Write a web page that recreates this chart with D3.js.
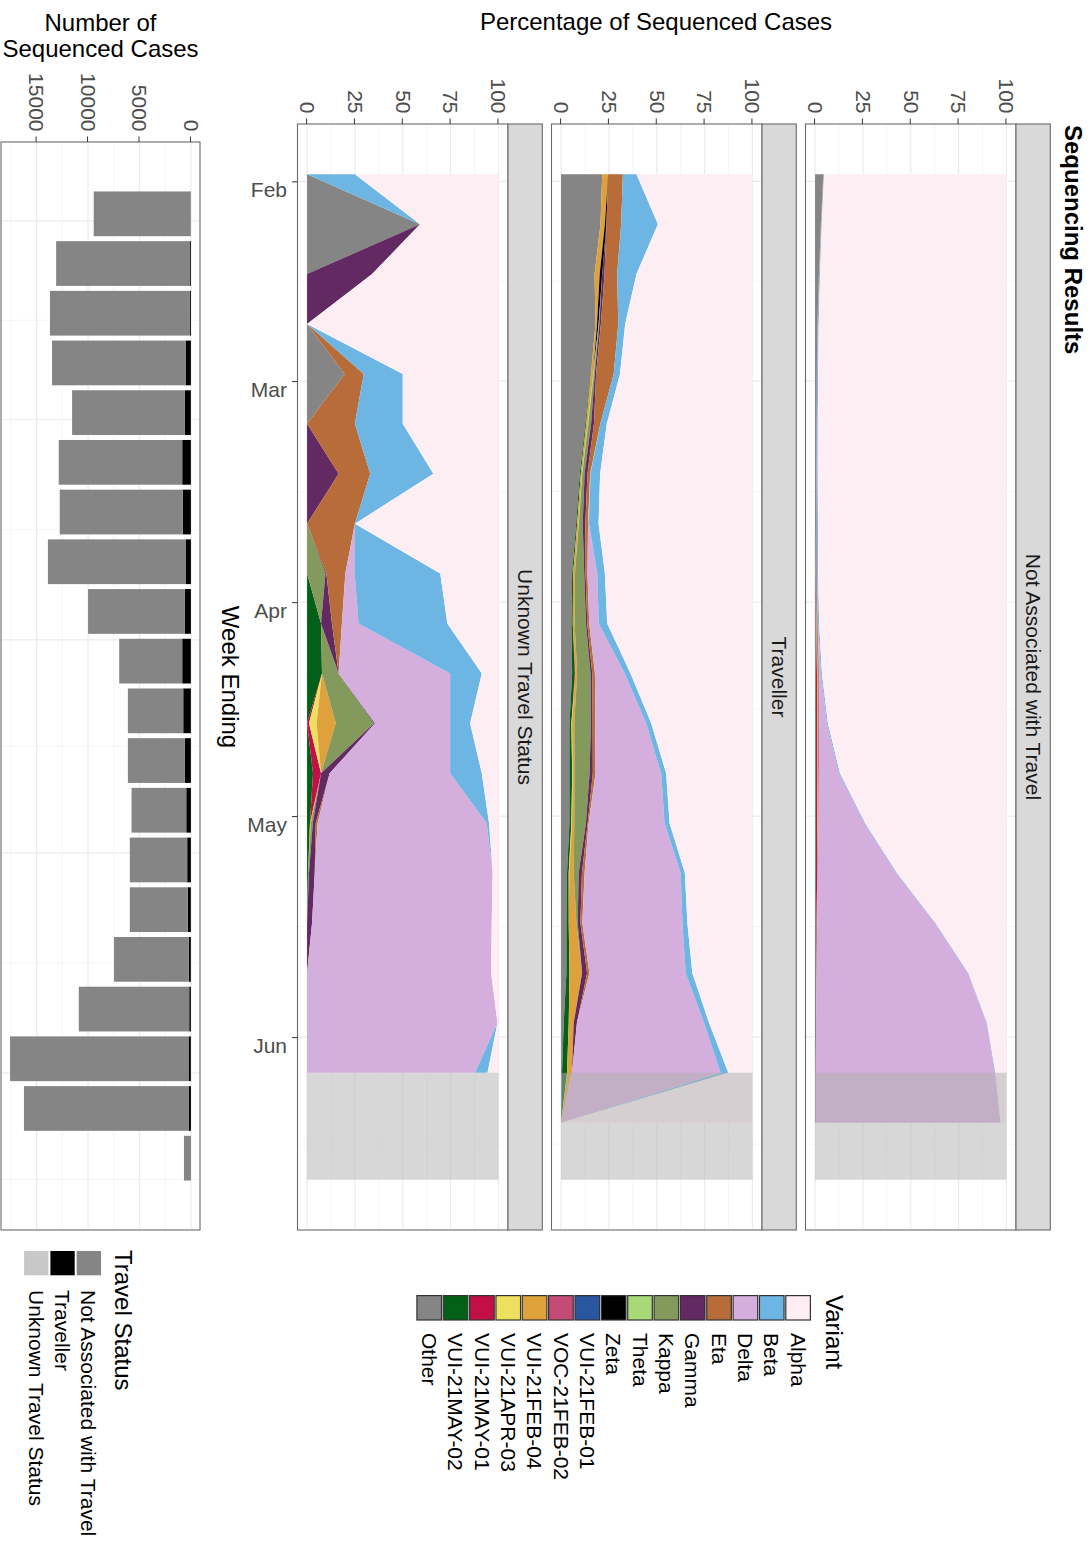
<!DOCTYPE html>
<html><head><meta charset="utf-8">
<script src="https://cdn.jsdelivr.net/npm/d3@7"></script>
<style>
body{margin:0;background:#fff}
svg{display:block}
text{font-family:"Liberation Sans",Arial,Helvetica,sans-serif}
</style>
</head><body>
<svg id="chart" width="1092" height="1542"></svg>
<script>
// ---------------- DATA ----------------
const weekEnding = ["2021-01-31","2021-02-07","2021-02-14","2021-02-21","2021-02-28","2021-03-07","2021-03-14","2021-03-21","2021-03-28","2021-04-04","2021-04-11","2021-04-18","2021-04-25","2021-05-02","2021-05-09","2021-05-16","2021-05-23","2021-05-30","2021-06-06","2021-06-13"];
const incompleteStart = "2021-06-06";
const incompleteEnd = "2021-06-21";
const facets = ["Not Associated with Travel","Traveller","Unknown Travel Status"];
const variants = ["Alpha","Beta","Delta","Eta","Gamma","Kappa","Theta","Zeta","VUI-21FEB-01","VOC-21FEB-02","VUI-21FEB-04","VUI-21APR-03","VUI-21MAY-01","VUI-21MAY-02","Other"];
const variantColors = ["#fdeef4","#6db6e3","#d4aedd","#b76c3a","#632963","#849a5d","#a8d877","#000000","#2a56a0","#c44b76","#dfa13b","#ede05f","#c20f46","#036016","#858585"];

// Not Associated with Travel (% of sequenced cases)
const naAlpha = [95.3,96.5,97.4,98.1,98.4,98.6,98.6,98.5,98.4,97.9,96.4,93.3,87.0,73.8,57.2,37.1,19.9,10.2,5.8,3.1];
const naBeta  = [0.2,0.3,0.4,0.5,0.5,0.5,0.5,0.5,0.5,0.5,0.5,0.5,0.5,0.4,0.4,0.3,0.3,0.3,0.3,0.3];
const naDelta = [0,0,0,0,0,0,0.1,0.1,0.1,0.2,1.0,4.0,10.5,24.0,41.0,61.5,79.0,89.0,93.5,96.2];
const naEta   = [0.2,0.2,0.2,0.2,0.2,0.2,0.2,0.2,0.2,0.2,0.2,0.1,0.1,0.1,0,0,0,0,0,0];
const naGamma = [0,0,0,0,0.1,0.1,0.1,0.2,0.2,0.2,0.2,0.2,0.2,0.1,0.1,0.1,0.1,0,0,0];
const naKappa = [0,0,0,0,0,0,0,0,0.1,0.2,0.3,0.3,0.2,0.2,0.1,0.1,0,0,0,0];
const naTheta = [0,0,0,0,0,0,0,0,0,0,0,0,0,0,0,0,0,0,0,0];
const naZeta  = [0,0,0,0,0,0,0,0,0,0,0,0,0,0,0,0,0,0,0,0];
const naFEB01 = [0,0,0,0,0,0,0,0,0,0,0,0,0,0,0,0,0,0,0,0];
const naFEB02 = [0,0,0,0,0,0,0,0,0,0,0,0,0,0,0,0,0,0,0,0];
const naFEB04 = [0,0,0,0,0,0,0,0,0.1,0.2,0.3,0.3,0.2,0.2,0.1,0.1,0.1,0,0,0];
const naAPR03 = [0,0,0,0,0,0,0,0,0,0,0.1,0.1,0.1,0.1,0,0,0,0,0,0];
const naMAY01 = [0,0,0,0,0,0,0,0,0,0.2,0.5,0.7,0.7,0.6,0.6,0.4,0.2,0.1,0.1,0.1];
const naMAY02 = [0,0,0,0,0,0,0,0,0,0,0.1,0.2,0.2,0.2,0.2,0.2,0.2,0.2,0.1,0.1];
const naOther = [4.3,3.0,2.0,1.2,0.8,0.6,0.5,0.5,0.4,0.4,0.4,0.3,0.3,0.3,0.3,0.2,0.2,0.2,0.2,0.2];

// Traveller
const trAlpha = [60.6,49.4,60.6,66.5,69.2,76.1,79.6,80.4,77.1,75.9,63.7,52.9,45.1,43.3,35.3,34.0,31.4,22.7,12.6,100];
const trBeta  = [7.1,19.2,10.1,3.6,3.3,3.4,5.0,5.0,4.0,4.4,3.0,2.6,2.6,2.6,2.2,2.6,3.5,2.6,4.0,0];
const trDelta = [0,0,0,0,0,0,0.2,0.5,5.1,5.0,15.6,26.6,34.3,39.7,50.2,52.3,50.3,66.4,77.7,0];
const trEta   = [7.7,7.7,6.6,9.1,9.2,3.3,1.4,1.4,1.0,1.0,1.4,1.4,1.4,0.5,1.4,1.0,1.2,0,0,0];
const trGamma = [0,0,1.2,0.8,0.7,1.5,1.5,1.4,0.7,0.7,0.9,0.9,1.7,0.9,1.7,1.4,2.6,1.7,0,0];
const trKappa = [0,0,0,0.2,0.5,1.5,1.2,2.0,4.9,5.9,7.0,8.7,7.9,6.1,2.6,0.7,0,0,0,0];
const trTheta = [0,0,0,0.2,0.3,0.3,0.2,0.2,0,0,0,0,0,0,0,0,0,0,0,0];
const trZeta  = [0,0.8,1.3,0.8,0,0,0,0,0,0,0,0,0,0,0,0,0,0,0,0];
const trFEB01 = [0,0,0,0,0,0,0,0,0,0,0,0,0,0,0,0,0,0,0,0];
const trFEB02 = [0,0,0,0,0,0,0,0,0,0,0,0,0,0,0,0,0,0,0,0];
const trFEB04 = [3.1,2.3,2.7,0.8,1.2,0.8,0.6,0.7,0.9,1.0,0.9,1.2,0.9,1.2,2.3,4.0,6.6,2.6,2.6,0];
const trAPR03 = [0,0,0,0,0,0,0,0,0,0,0,0.3,0.3,0.3,0.3,0,0,0,0,0];
const trMAY01 = [0,0,0,0,0,0,0,0,0,0,0.3,0,0,0,0,0,0,0,0,0];
const trMAY02 = [0,0,0,0,0.2,0.4,0.5,0.5,0.5,0.7,1.4,1.0,1.4,1.0,0.9,1.2,1.6,2.6,2.6,0];
const trOther = [21.5,20.6,17.5,18.0,15.4,12.7,9.8,7.9,5.8,5.4,5.8,4.4,4.4,4.4,3.1,2.8,2.8,1.4,0.5,0];

// Unknown Travel Status (no data for the last week)
const unAlpha = [75,41,66,100,50,50,34,75,30.4,26.7,8.7,14.8,8.7,4.9,3,3.5,3.8,0.5,5.7,null];
const unBeta  = [25,0,0,0,20.4,25,33,0,44.7,46.4,16.5,10.4,16.5,1.2,0,0,0,0,6.5,null];
const unDelta = [0,0,0,0,0,0,0,0,4.9,8.7,58.3,39.3,63,88.4,93,93.9,96.2,99.5,87.8,null];
const unEta   = [0,0,0,0,10,25,16.5,25,9.9,5.2,0,0,0,1.0,0,0,0,0,0,null];
const unGamma = [0,0,34,0,0,0,16.5,0,0.5,5.7,0,0.5,4.5,1.5,3,2.6,0,0,0,null];
const unKappa = [0,0,0,0,0,0,0,0,9.6,0,8.7,20,0,1.0,0.5,0,0,0,0,null];
const unTheta = [0,0,0,0,0,0,0,0,0,0,0,0,0,0,0,0,0,0,0,null];
const unZeta  = [0,0,0,0,0,0,0,0,0,0,0,0,0,0,0,0,0,0,0,null];
const unFEB01 = [0,0,0,0,0,0,0,0,0,0,0,0,0,0,0,0,0,0,0,null];
const unFEB02 = [0,0,0,0,0,0,0,0,0,0,0,0,0,0,0,0,0,0,0,null];
const unFEB04 = [0,0,0,0,0,0,0,0,0,0,0,10,0,0.5,0,0,0,0,0,null];
const unAPR03 = [0,0,0,0,0,0,0,0,0,0,0,4,0,0,0,0,0,0,0,null];
const unMAY01 = [0,0,0,0,0,0,0,0,0,0,0,1.0,4.2,0,0,0,0,0,0,null];
const unMAY02 = [0,0,0,0,0,0,0,0,0,7.3,7.8,0,3.1,1.5,0.5,0,0,0,0,null];
const unOther = [0,59,0,0,19.6,0,0,0,0,0,0,0,0,0,0,0,0,0,0,null];

// Number of sequenced cases by travel status
const travelStatus = ["Not Associated with Travel","Traveller","Unknown Travel Status"];
const travelColors = ["#858585","#000000","#c8c8c8"];
const barNotAssoc  = [9426,13008,13602,13014,10960,12002,11944,13376,9414,6122,5380,5512,5314,5575,5638,7276,10730,17343,15999,680];
const barTraveller = [20,80,90,480,580,840,800,520,580,840,740,610,450,355,290,190,160,225,225,0];
const barUnknown   = [4,12,8,6,10,8,6,4,6,8,10,8,6,10,12,14,10,12,6,0];

const monthTicks = ["2021-02-01","2021-03-01","2021-04-01","2021-05-01","2021-06-01"];
const monthEdges = ["2021-01-01","2021-02-01","2021-03-01","2021-04-01","2021-05-01","2021-06-01","2021-07-01"];
const pctTicks = [0,25,50,75,100];
const pctMinor = [12.5,37.5,62.5,87.5];
const countTicks = [0,5000,10000,15000];
const countMinor = [2500,7500,12500,17500];

// ---------------- DRAW ----------------
const parse = d3.utcParse("%Y-%m-%d");
const DAY = 864e5;
const svg = d3.select("#chart");
// drawn in landscape 1542 x 1092, then turned a quarter clockwise
const root = svg.append("g").attr("transform","translate(1092,0) rotate(90)");

const FONT = '"Liberation Sans",Arial,Helvetica,sans-serif';
const gridMajor = "#ebebeb", gridMinor = "#f3f3f3", borderCol = "#6a6a6a";

const dates = weekEnding.map(parse);
const pctX0 = 124, pctX1 = 1230;
const panelTops = [76, 330, 584], panelH = 210.5, stripH = 34.3;

const d0 = dates[0], d1 = parse(incompleteEnd);
const span = d1 - d0;
const x = d3.scaleUtc().domain([new Date(+d0 - 0.05*span), new Date(+d1 + 0.05*span)]).range([pctX0, pctX1]);

const majors = monthTicks.map(parse);
const edges = monthEdges.map(parse);
const minors = d3.pairs(edges).map(([a,b]) => new Date((+a + +b)/2));

const tables = [
  [naAlpha,naBeta,naDelta,naEta,naGamma,naKappa,naTheta,naZeta,naFEB01,naFEB02,naFEB04,naAPR03,naMAY01,naMAY02,naOther],
  [trAlpha,trBeta,trDelta,trEta,trGamma,trKappa,trTheta,trZeta,trFEB01,trFEB02,trFEB04,trAPR03,trMAY01,trMAY02,trOther],
  [unAlpha,unBeta,unDelta,unEta,unGamma,unKappa,unTheta,unZeta,unFEB01,unFEB02,unFEB04,unAPR03,unMAY01,unMAY02,unOther]
];
const colorOf = d3.scaleOrdinal().domain(variants).range(variantColors);
const stackKeys = variants.slice().reverse(); // Other at the bottom, Alpha on top

tables.forEach((table, p) => {
  const top = panelTops[p];
  const y = d3.scaleLinear().domain([-5,105]).range([top+panelH, top]);
  const g = root.append("g");
  g.append("rect").attr("x",pctX0).attr("y",top).attr("width",pctX1-pctX0).attr("height",panelH).attr("fill","#fff");
  const xIn = d => x(d) > pctX0 && x(d) < pctX1;
  g.selectAll(".vmin").data(minors.filter(xIn)).join("line")
    .attr("x1",d=>x(d)).attr("x2",d=>x(d)).attr("y1",top).attr("y2",top+panelH)
    .attr("stroke",gridMinor).attr("stroke-width",0.8);
  g.selectAll(".hmin").data(pctMinor).join("line")
    .attr("x1",pctX0).attr("x2",pctX1).attr("y1",d=>y(d)).attr("y2",d=>y(d))
    .attr("stroke",gridMinor).attr("stroke-width",0.8);
  g.selectAll(".vmaj").data(majors).join("line")
    .attr("x1",d=>x(d)).attr("x2",d=>x(d)).attr("y1",top).attr("y2",top+panelH)
    .attr("stroke",gridMajor).attr("stroke-width",1.2);
  g.selectAll(".hmaj").data(pctTicks).join("line")
    .attr("x1",pctX0).attr("x2",pctX1).attr("y1",d=>y(d)).attr("y2",d=>y(d))
    .attr("stroke",gridMajor).attr("stroke-width",1.2);

  const rows = dates.map((d,i) => {
    const r = {date:d};
    variants.forEach((v,j) => { r[v] = table[j][i]; });
    return r;
  }).filter(r => r.Alpha !== null);
  const series = d3.stack().keys(stackKeys)(rows);
  const area = d3.area().x(d => x(d.data.date)).y0(d => y(d[0])).y1(d => y(d[1]));
  g.selectAll(".layer").data(series).join("path")
    .attr("d", area).attr("fill", s => colorOf(s.key)).attr("stroke","none");

  g.append("rect")
    .attr("x", x(parse(incompleteStart))).attr("width", x(parse(incompleteEnd)) - x(parse(incompleteStart)))
    .attr("y", y(100)).attr("height", y(0) - y(100))
    .attr("fill","#b0b0b0").attr("fill-opacity",0.5);

  g.append("rect").attr("x",pctX0).attr("y",top).attr("width",pctX1-pctX0).attr("height",panelH)
    .attr("fill","none").attr("stroke",borderCol).attr("stroke-width",1.1);
  g.append("rect").attr("x",pctX0).attr("y",top-stripH).attr("width",pctX1-pctX0).attr("height",stripH)
    .attr("fill","#d9d9d9").attr("stroke",borderCol).attr("stroke-width",1.1);
  g.append("text").attr("x",(pctX0+pctX1)/2).attr("y",top-stripH/2).attr("dy","0.35em")
    .attr("text-anchor","middle").attr("font-size",21).attr("fill","#1a1a1a").text(facets[p]);

  const ax = g.append("g").attr("transform",`translate(${pctX0},0)`)
    .call(d3.axisLeft(y).tickValues(pctTicks).tickSize(5.5).tickPadding(5));
  ax.select(".domain").remove();
  ax.selectAll("line").attr("stroke","#333");
  ax.selectAll("text").attr("font-size",21).attr("font-family",FONT).attr("fill","#4d4d4d");

  if (p === 2) {
    const bx = g.append("g").attr("transform",`translate(0,${top+panelH})`)
      .call(d3.axisBottom(x).tickValues(majors).tickFormat(d3.utcFormat("%b")).tickSize(5.5));
    bx.select(".domain").remove();
    bx.selectAll("line").attr("stroke","#333");
    bx.selectAll("text").attr("font-size",21).attr("font-family",FONT).attr("fill","#4d4d4d")
      .attr("transform","rotate(-90)").attr("x",-10.5).attr("y",0).attr("dy","0.74em")
      .attr("text-anchor","end");
  }
});

// ---- titles ----
root.append("text").attr("x",125).attr("y",27).attr("font-size",24).attr("font-weight","bold")
  .attr("fill","#000").text("Sequencing Results");
root.append("text").attr("transform",`translate(30,436) rotate(-90)`).attr("text-anchor","middle")
  .attr("font-size",24).attr("fill","#000").text("Percentage of Sequenced Cases");
root.append("text").attr("x",(pctX0+pctX1)/2).attr("y",870).attr("text-anchor","middle")
  .attr("font-size",24).attr("fill","#000").text("Week Ending");

// ---- bar panel ----
const bX0 = 142, bX1 = 1230, bY0 = 892, bY1 = 1091;
const half = 0.45*7*DAY;
const bSpan = (+dates[dates.length-1] + half) - (+dates[0] - half);
const bx = d3.scaleUtc()
  .domain([new Date(+dates[0] - half - 0.05*bSpan), new Date(+dates[dates.length-1] + half + 0.05*bSpan)])
  .range([bX0, bX1]);
const barRows = dates.map((d,i) => ({date:d, "Unknown Travel Status":barUnknown[i], "Traveller":barTraveller[i], "Not Associated with Travel":barNotAssoc[i]}));
const barSeries = d3.stack().keys(["Unknown Travel Status","Traveller","Not Associated with Travel"])(barRows);
const maxTotal = d3.max(barSeries[barSeries.length-1], d => d[1]);
const by = d3.scaleLinear().domain([-0.05*maxTotal, 1.05*maxTotal]).range([bY0, bY1]);
const travelColor = d3.scaleOrdinal().domain(travelStatus).range(travelColors);

const bg = root.append("g");
bg.append("rect").attr("x",bX0).attr("y",bY0).attr("width",bX1-bX0).attr("height",bY1-bY0).attr("fill","#fff");
const bxIn = d => bx(d) > bX0 && bx(d) < bX1;
bg.selectAll(".bvmin").data(minors.filter(bxIn)).join("line")
  .attr("x1",d=>bx(d)).attr("x2",d=>bx(d)).attr("y1",bY0).attr("y2",bY1).attr("stroke",gridMinor).attr("stroke-width",0.8);
bg.selectAll(".bhmin").data(countMinor).join("line")
  .attr("x1",bX0).attr("x2",bX1).attr("y1",d=>by(d)).attr("y2",d=>by(d)).attr("stroke",gridMinor).attr("stroke-width",0.8);
bg.selectAll(".bvmaj").data(majors.filter(bxIn)).join("line")
  .attr("x1",d=>bx(d)).attr("x2",d=>bx(d)).attr("y1",bY0).attr("y2",bY1).attr("stroke",gridMajor).attr("stroke-width",1.2);
bg.selectAll(".bhmaj").data(countTicks).join("line")
  .attr("x1",bX0).attr("x2",bX1).attr("y1",d=>by(d)).attr("y2",d=>by(d)).attr("stroke",gridMajor).attr("stroke-width",1.2);

bg.selectAll(".bars").data(barSeries).join("g").attr("fill", s => travelColor(s.key))
  .selectAll("rect").data(s => s).join("rect")
  .attr("x", d => bx(new Date(+d.data.date - half)))
  .attr("width", d => bx(new Date(+d.data.date + half)) - bx(new Date(+d.data.date - half)))
  .attr("y", d => by(d[0]))
  .attr("height", d => Math.max(0, by(d[1]) - by(d[0])));

bg.append("rect").attr("x",bX0).attr("y",bY0).attr("width",bX1-bX0).attr("height",bY1-bY0)
  .attr("fill","none").attr("stroke",borderCol).attr("stroke-width",1.1);
const bax = bg.append("g").attr("transform",`translate(${bX0},0)`)
  .call(d3.axisLeft(by).tickValues(countTicks).tickFormat(d3.format("d")).tickSize(5.5).tickPadding(5));
bax.select(".domain").remove();
bax.selectAll("line").attr("stroke","#333");
bax.selectAll("text").attr("font-size",21).attr("font-family",FONT).attr("fill","#4d4d4d");

root.append("text").attr("transform",`translate(31,${(bY0+bY1)/2}) rotate(-90)`).attr("text-anchor","middle")
  .attr("font-size",24).attr("fill","#000").text("Number of");
root.append("text").attr("transform",`translate(57,${(bY0+bY1)/2}) rotate(-90)`).attr("text-anchor","middle")
  .attr("font-size",24).attr("fill","#000").text("Sequenced Cases");

// ---- legends ----
const lg = root.append("g");
lg.append("text").attr("x",1295).attr("y",266).attr("font-size",24).attr("fill","#000").text("Variant");
const vRows = lg.selectAll(".vk").data(variants).join("g")
  .attr("transform",(d,i)=>`translate(1295,${281 + i*26.35})`);
vRows.append("rect").attr("x",0.6).attr("y",0.6).attr("width",24.4).attr("height",24.6)
  .attr("fill",d=>colorOf(d)).attr("stroke","#333").attr("stroke-width",1.2);
vRows.append("text").attr("x",38).attr("y",12.9).attr("dy","0.35em").attr("font-size",21).attr("fill","#000").text(d=>d);

lg.append("text").attr("x",1250).attr("y",977).attr("font-size",24).attr("fill","#000").text("Travel Status");
const tRows = lg.selectAll(".tk").data(travelStatus).join("g")
  .attr("transform",(d,i)=>`translate(1251,${991 + i*26.3})`);
tRows.append("rect").attr("width",24.3).attr("height",24.3).attr("fill",d=>travelColor(d));
tRows.append("text").attr("x",39).attr("y",12.2).attr("dy","0.35em").attr("font-size",21).attr("fill","#000").text(d=>d);
</script>
</body></html>
